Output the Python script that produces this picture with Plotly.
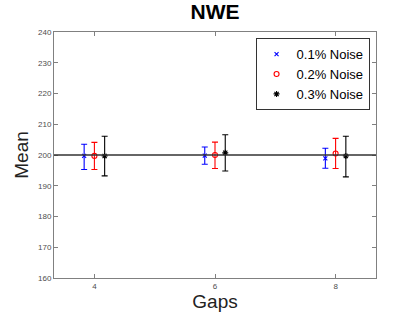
import plotly.graph_objects as go

gaps = [4, 6, 8]
offsets = [-0.17, 0.0, 0.17]
series_names = ["0.1% Noise", "0.2% Noise", "0.3% Noise"]
means = [
    [199.7, 199.8, 198.9],
    [199.7, 200.0, 200.5],
    [199.7, 200.7, 199.7],
]
upper = [
    [203.5, 202.6, 202.2],
    [204.1, 204.2, 205.4],
    [206.1, 206.6, 206.1],
]
lower = [
    [195.3, 197.0, 195.7],
    [195.3, 195.6, 195.6],
    [193.2, 194.8, 192.9],
]
reference_value = 200
y_ticks = [160, 170, 180, 190, 200, 210, 220, 230, 240]
x_ticks = [4, 6, 8]

colors = ["#0000ff", "#ff0000", "#000000"]
symbols = ["x-thin-open", "circle-open", "asterisk-open"]
sizes = [4, 5, 5]

fig = go.Figure()
for i in range(3):
    xs = [g + offsets[i] for g in gaps]
    fig.add_trace(go.Scatter(
        x=xs, y=means[i], mode="markers", name=series_names[i],
        marker=dict(symbol=symbols[i], size=sizes[i], color=colors[i],
                    line=dict(width=1.1, color=colors[i])),
        error_y=dict(type="data", symmetric=False,
                     array=[u - m for u, m in zip(upper[i], means[i])],
                     arrayminus=[m - l for m, l in zip(means[i], lower[i])],
                     color=colors[i], thickness=1.1, width=3),
    ))

fig.add_shape(type="line", xref="paper", x0=0, x1=1, yref="y",
              y0=reference_value, y1=reference_value,
              line=dict(color="#333333", width=1.3))

axis_common = dict(showline=True, linecolor="#808080", linewidth=1, mirror="ticks",
                   ticks="inside", ticklen=4, tickcolor="#808080", showgrid=False,
                   zeroline=False, automargin=False,
                   tickfont=dict(family="Liberation Sans, Arial", size=8, color="#4d4d4d"))

fig.update_layout(
    width=415, height=312,
    margin=dict(l=54, r=39, t=32, b=34),
    paper_bgcolor="white", plot_bgcolor="white",
    title=dict(text="<b>NWE</b>", x=0.518, xanchor="center", y=0.962, yanchor="middle",
               font=dict(family="Liberation Sans, Arial", size=21, color="black")),
    xaxis=dict(range=[3.33, 8.67], tickvals=x_ticks, **axis_common,
               title=dict(text="Gaps", standoff=4,
                          font=dict(family="Liberation Sans, Arial", size=19, color="#222222"))),
    yaxis=dict(range=[160, 240], tickvals=y_ticks, **axis_common,
               title=dict(text="Mean", standoff=4,
                          font=dict(family="Liberation Sans, Arial", size=19, color="#222222"))),
    legend=dict(x=0.98, xanchor="right", y=0.975, yanchor="top",
                bgcolor="white", bordercolor="#333333", borderwidth=1,
                font=dict(family="Liberation Sans, Arial", size=13, color="black"),
                tracegroupgap=0, itemwidth=30),
    showlegend=True,
)

fig.write_html("out.html", config={"displayModeBar": False},
               post_script="document.body.style.margin='0px';")
